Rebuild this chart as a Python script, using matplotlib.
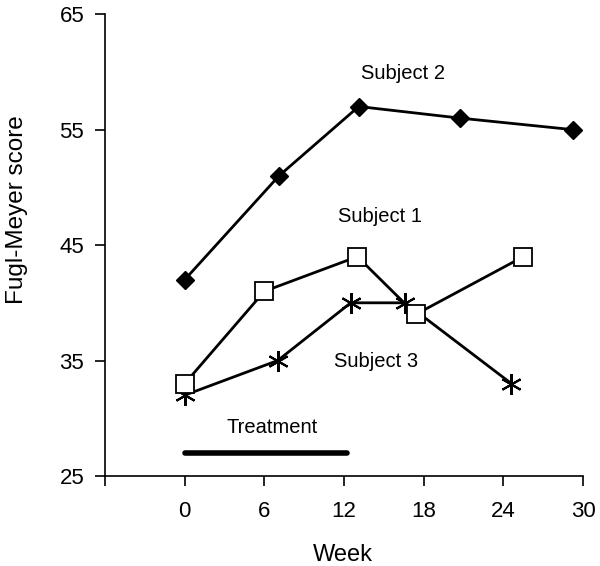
import matplotlib.pyplot as plt

plt.rcParams['font.family'] = ['Liberation Sans', 'DejaVu Sans']

# Fugl-Meyer scores per subject
weeks_s1 = [0, 6, 13, 17.4, 25.5]
score_s1 = [33, 41, 44, 39, 44]

weeks_s2 = [0, 7.1, 13.1, 20.7, 29.2]
score_s2 = [42, 51, 57, 56, 55]

weeks_s3 = [0, 7, 12.5, 16.6, 24.6]
score_s3 = [32, 35, 40, 40, 33]

treatment_weeks = [0, 12.2]
treatment_level = 27

x_ticks = [-6, 0, 6, 12, 18, 24, 30]
x_tick_labels = ['', '0', '6', '12', '18', '24', '30']
y_ticks = [25, 35, 45, 55, 65]

fig = plt.figure(figsize=(6, 5.66), dpi=100)
ax = fig.add_axes([0.175, 0.159, 0.797, 0.816])

ax.plot(weeks_s2, score_s2, color='black', lw=2, marker='D', ms=9,
        mfc='black', mec='black', zorder=3)
ax.plot(weeks_s3, score_s3, color='black', lw=2, marker=(6, 2, 0), ms=15,
        mec='black', mew=1.5, zorder=3)
ax.plot(weeks_s1, score_s1, color='black', lw=2, marker='s', ms=13,
        mfc='white', mec='black', mew=1.3, zorder=4)

ax.plot(treatment_weeks, [treatment_level, treatment_level], color='black',
        lw=4, solid_capstyle='round')
ax.text(6.6, 29.2, 'Treatment', ha='center', va='center', fontsize=14.5)

ax.text(16.4, 59.9, 'Subject 2', ha='center', va='center', fontsize=14.5)
ax.text(14.7, 47.45, 'Subject 1', ha='center', va='center', fontsize=14.5)
ax.text(14.4, 34.9, 'Subject 3', ha='center', va='center', fontsize=14.5)

ax.set_xlim(-6, 30)
ax.set_ylim(25, 65)
ax.set_xticks(x_ticks)
ax.set_xticklabels(x_tick_labels)
ax.set_yticks(y_ticks)
ax.tick_params(direction='out', length=7, width=1.2, labelsize=16)
ax.tick_params(axis='x', pad=11)
ax.tick_params(axis='y', pad=8)
for side in ['top', 'right']:
    ax.spines[side].set_visible(False)
for side in ['left', 'bottom']:
    ax.spines[side].set_linewidth(1.2)

ax.set_xlabel('Week', fontsize=17, va='center')
ax.set_ylabel('Fugl-Meyer score', fontsize=17.5, va='center')
ax.xaxis.set_label_coords(0.498, -0.171)
ax.yaxis.set_label_coords(-0.184, 0.576)

plt.savefig('out.png', dpi=100)
